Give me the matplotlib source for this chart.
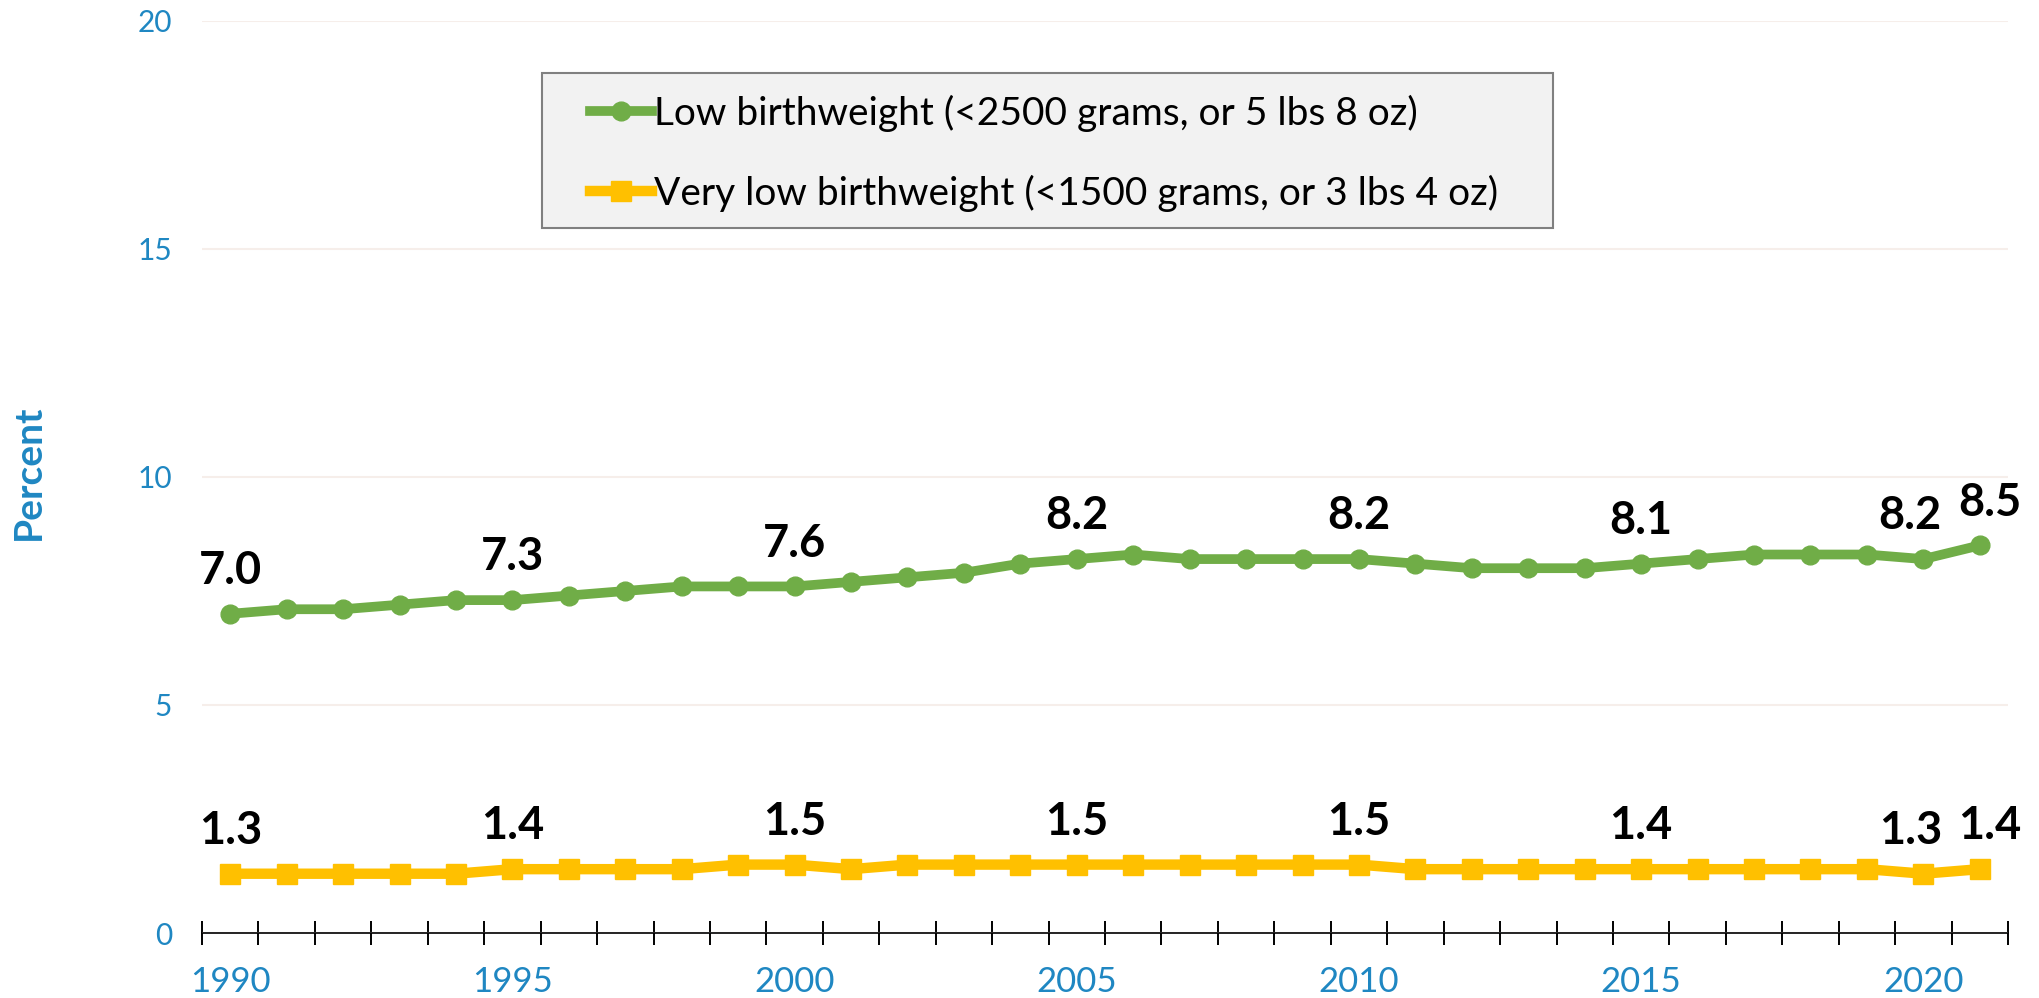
import numpy as np
import matplotlib
matplotlib.use('Agg')
import matplotlib.pyplot as plt
from matplotlib.patches import Rectangle

plt.rcParams['font.family'] = ['Lato', 'DejaVu Sans']

years = list(range(1990, 2022))
low_bw = [7.0, 7.1, 7.1, 7.2, 7.3, 7.3, 7.4, 7.5, 7.6, 7.6,
          7.6, 7.7, 7.8, 7.9, 8.1, 8.2, 8.3, 8.2, 8.2, 8.2,
          8.2, 8.1, 8.0, 8.0, 8.0, 8.1, 8.2, 8.3, 8.3, 8.3,
          8.2, 8.5]
very_low_bw = [1.3, 1.3, 1.3, 1.3, 1.3, 1.4, 1.4, 1.4, 1.4, 1.5,
               1.5, 1.4, 1.5, 1.5, 1.5, 1.5, 1.5, 1.5, 1.5, 1.5,
               1.5, 1.4, 1.4, 1.4, 1.4, 1.4, 1.4, 1.4, 1.4, 1.4,
               1.3, 1.4]
label_years = [1990, 1995, 2000, 2005, 2010, 2015, 2020, 2021]
year_ticks = [1990, 1995, 2000, 2005, 2010, 2015, 2020]
y_ticks = [0, 5, 10, 15, 20]
low_name = 'Low birthweight (<2500 grams, or 5 lbs 8 oz)'
very_low_name = 'Very low birthweight (<1500 grams, or 3 lbs 4 oz)'

green = '#70AD47'
yellow = '#FFC000'
blue = '#1F87C2'

fig = plt.figure(figsize=(20.39, 9.98), dpi=100)
ax = fig.add_axes([0.09907, 0.06513, 0.88573, 0.91383])

l1, = ax.plot(years, low_bw, color=green, lw=7, marker='o', ms=13.5,
              label=low_name, zorder=3)
l2, = ax.plot(years, very_low_bw, color=yellow, lw=7.5, marker='s', ms=14,
              label=very_low_name, zorder=3)

# data labels (nudged at the crowded right end)
label_dx = {2020: -9.4, 2021: 7.2}
for series in (low_bw, very_low_bw):
    for yr in label_years:
        v = series[years.index(yr)]
        ax.annotate(f'{v:.1f}', (yr, v), xytext=(label_dx.get(yr, 0), 21.5),
                    textcoords='offset points', ha='center', va='baseline',
                    fontsize=32.5, fontweight='bold', color='black', zorder=5)

ax.set_xlim(1989.5, 2021.5)
ax.set_ylim(0, 20)

ax.set_xticks(year_ticks)
ax.set_xticklabels([str(y) for y in year_ticks])
ax.set_xticks(np.arange(1989.5, 2022, 1), minor=True)
ax.tick_params(axis='x', which='major', length=0, pad=24, labelsize=25,
               labelcolor=blue)
ax.tick_params(axis='x', which='minor', direction='inout', length=17,
               width=1.4, color='black')

ax.set_yticks(y_ticks)
ax.tick_params(axis='y', length=0, pad=21.5, labelsize=21.5, labelcolor=blue)
ax.yaxis.grid(True, color='#F6EEEA', lw=1.5)
ax.set_axisbelow(True)

for s in ('left', 'top', 'right'):
    ax.spines[s].set_visible(False)
ax.spines['bottom'].set_color('black')
ax.spines['bottom'].set_linewidth(1.2)

fig.text(28.5 / 2039, 1 - 472 / 998, 'Percent', rotation=90, fontsize=28,
         fontweight='bold', color=blue, ha='center', va='center')

box = Rectangle((0.188, 0.773), 0.560, 0.170, transform=ax.transAxes,
                fc='#F2F2F2', ec='#808080', lw=1.5, zorder=4)
ax.add_patch(box)
leg = ax.legend(handles=[l1, l2], loc='center left',
                bbox_to_anchor=(0.2148, 0.855), frameon=False, fontsize=28,
                handlelength=1.6, handletextpad=0.05, labelspacing=1.1,
                borderpad=0, borderaxespad=0, numpoints=1)
leg.set_zorder(6)

fig.savefig('out.png', dpi=100)
